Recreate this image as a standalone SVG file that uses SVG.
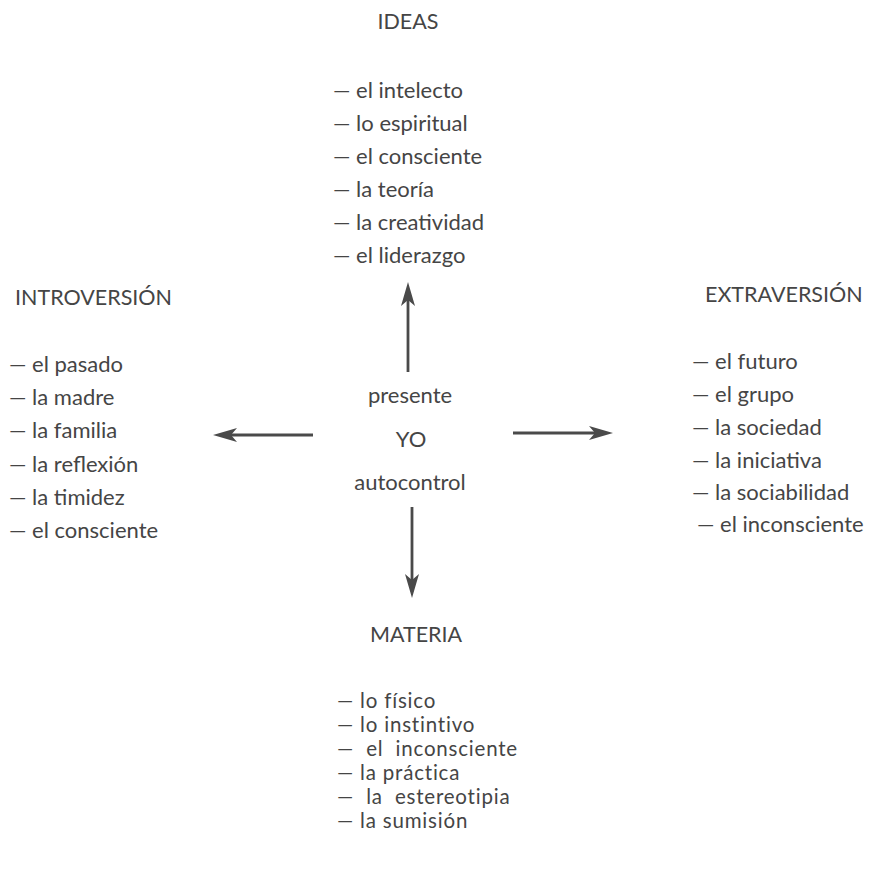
<svg xmlns="http://www.w3.org/2000/svg" width="874" height="877" viewBox="0 0 874 877">
<style>
text { font-family: Lato, "Open Sans", "DejaVu Sans", sans-serif; fill: #454545; font-size: 22px; }
.h { font-size: 21.5px; }
.c { text-anchor: middle; }
.m { font-size: 20.5px; letter-spacing: 0.8px; }
.conn line { stroke: #4a4a4a; stroke-width: 2.8; fill: none; }
</style>
<defs>
<marker id="ah" viewBox="0 0 24 14" refX="6" refY="7" markerWidth="24" markerHeight="14" markerUnits="userSpaceOnUse" orient="auto">
<path d="M0,0 L24,7 L0,14 L6,7 Z" fill="#4a4a4a"/>
</marker>
</defs>
<rect width="874" height="877" fill="#ffffff"/>

<g id="center">
<text class="c" x="410" y="403">presente</text>
<text class="c" x="411" y="447">YO</text>
<text class="c" x="410" y="490">autocontrol</text>
</g>

<g id="ideas">
<text class="h c" x="408" y="29">IDEAS</text>
<text x="333" y="98">— el intelecto</text>
<text x="333" y="131">— lo espiritual</text>
<text x="333" y="164">— el consciente</text>
<text x="333" y="197">— la teoría</text>
<text x="333" y="230">— la creatividad</text>
<text x="333" y="263">— el liderazgo</text>
</g>

<g id="introversion">
<text class="h" x="15" y="305">INTROVERSIÓN</text>
<text x="9" y="372">— el pasado</text>
<text x="9" y="405">— la madre</text>
<text x="9" y="438">— la familia</text>
<text x="9" y="472">— la reflexión</text>
<text x="9" y="505">— la timidez</text>
<text x="9" y="538">— el consciente</text>
</g>

<g id="extraversion">
<text class="h" x="705" y="302">EXTRAVERSIÓN</text>
<text x="692" y="369">— el futuro</text>
<text x="692" y="402">— el grupo</text>
<text x="692" y="435">— la sociedad</text>
<text x="692" y="468">— la iniciativa</text>
<text x="692" y="500">— la sociabilidad</text>
<text x="697" y="532">— el inconsciente</text>
</g>

<g id="materia">
<text class="h" x="370" y="642">MATERIA</text>
<text class="m" x="337" y="708">— lo físico</text>
<text class="m" x="337" y="732">— lo instintivo</text>
<text class="m" x="337" y="756" xml:space="preserve">—  el  inconsciente</text>
<text class="m" x="337" y="780">— la práctica</text>
<text class="m" x="337" y="804" xml:space="preserve">—  la  estereotipia</text>
<text class="m" x="337" y="828">— la sumisión</text>
</g>

<g id="connectors" class="conn">
<line x1="408" y1="372" x2="408" y2="300" marker-end="url(#ah)"/>
<line x1="313" y1="435" x2="231" y2="435" marker-end="url(#ah)"/>
<line x1="513" y1="433" x2="595" y2="433" marker-end="url(#ah)"/>
<line x1="412" y1="507" x2="412" y2="580" marker-end="url(#ah)"/>
</g>
</svg>
